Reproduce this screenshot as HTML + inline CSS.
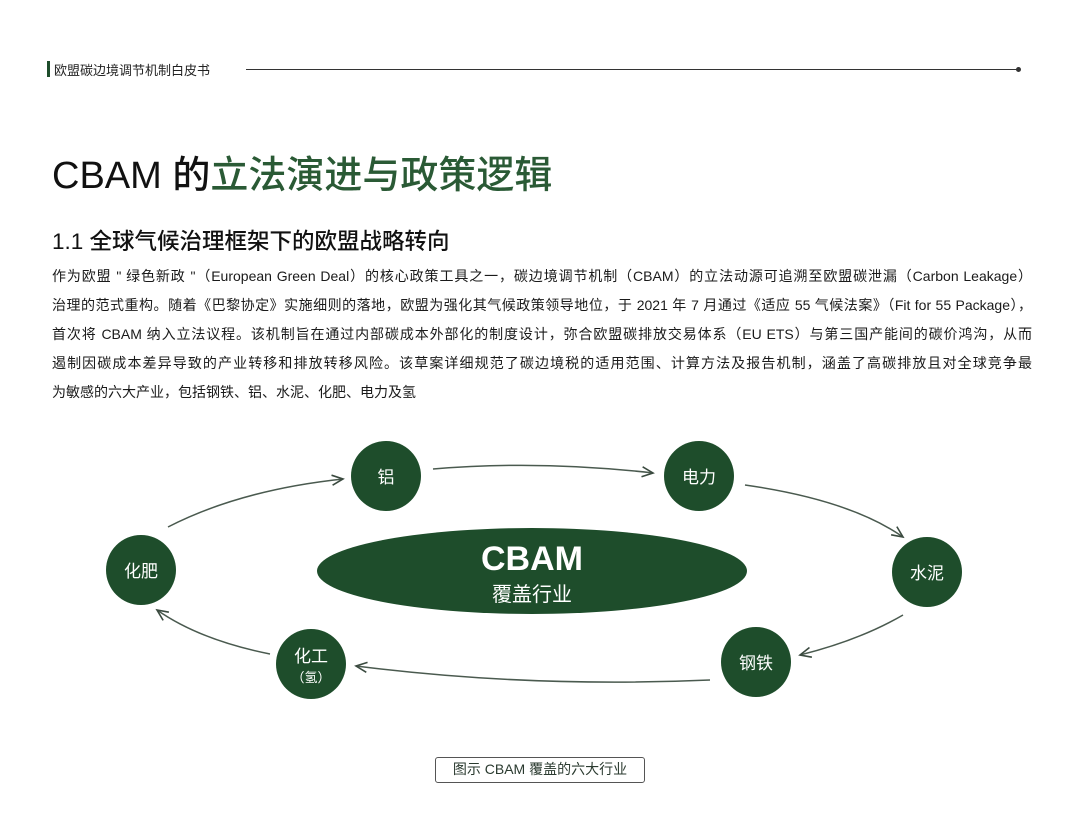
<!DOCTYPE html>
<html><head><meta charset="utf-8"><style>
*{margin:0;padding:0;box-sizing:border-box}
body{width:1080px;height:814px;background:#fff;position:relative;overflow:hidden;font-family:"Liberation Sans","Noto Sans CJK SC",sans-serif;color:#1a1a1a}
.a{position:absolute;white-space:nowrap}
.ln{position:absolute;left:52px;width:980px;font-size:14px;text-align:justify;text-align-last:justify;white-space:nowrap;line-height:18px}
</style></head><body>
<div class="a" style="left:47px;top:61px;width:3px;height:16px;background:#1e4d2b"></div>
<div class="a" style="left:54px;top:60px;font-size:13px;color:#222">欧盟碳边境调节机制白皮书</div>
<div class="a" style="left:246px;top:69px;width:772px;height:1px;background:#333"></div>
<div class="a" style="left:1016px;top:67px;width:5px;height:5px;border-radius:50%;background:#333"></div>
<div class="a" style="left:52px;top:144px;font-size:38px;font-weight:500;color:#111">CBAM 的<span style="color:#2a5a35">立法演进与政策逻辑</span></div>
<div class="a" style="left:52px;top:224px;font-size:22.5px;font-weight:500;color:#111">1.1 全球气候治理框架下的欧盟战略转向</div>
<div class="ln" style="top:267px">作为欧盟 " 绿色新政 "（European Green Deal）的核心政策工具之一，碳边境调节机制（CBAM）的立法动源可追溯至欧盟碳泄漏（Carbon Leakage）</div>
<div class="ln" style="top:296px">治理的范式重构。随着《巴黎协定》实施细则的落地，欧盟为强化其气候政策领导地位，于 2021 年 7 月通过《适应 55 气候法案》（Fit for 55 Package），</div>
<div class="ln" style="top:325px">首次将 CBAM 纳入立法议程。该机制旨在通过内部碳成本外部化的制度设计，弥合欧盟碳排放交易体系（EU ETS）与第三国产能间的碳价鸿沟，从而</div>
<div class="ln" style="top:354px">遏制因碳成本差异导致的产业转移和排放转移风险。该草案详细规范了碳边境税的适用范围、计算方法及报告机制，涵盖了高碳排放且对全球竞争最</div>
<div class="ln" style="top:383px;text-align-last:left">为敏感的六大产业，包括钢铁、铝、水泥、化肥、电力及氢</div>
<svg class="a" style="left:0;top:0" width="1080" height="814">
<defs><marker id="m" markerWidth="14" markerHeight="14" refX="12" refY="7" orient="auto" markerUnits="userSpaceOnUse"><path d="M1,2 L12,7 L1,12" fill="none" stroke="#3a4a3f" stroke-width="1.6"/></marker></defs>
<g fill="none" stroke="#4a5a4f" stroke-width="1.5">
<path d="M168,527 Q240,490 343,479" marker-end="url(#m)"/>
<path d="M433,469 Q540,460 653,473" marker-end="url(#m)"/>
<path d="M745,485 Q850,500 903,537" marker-end="url(#m)"/>
<path d="M903,615 Q860,640 800,655" marker-end="url(#m)"/>
<path d="M710,680 Q530,688 356,666" marker-end="url(#m)"/>
<path d="M270,654 Q200,640 157,610" marker-end="url(#m)"/>
</g>
<g fill="#1e4d2b">
<ellipse cx="532" cy="571" rx="215" ry="43"/>
<circle cx="386" cy="476" r="35"/><circle cx="699" cy="476" r="35"/>
<circle cx="927" cy="572" r="35"/><circle cx="756" cy="662" r="35"/>
<circle cx="311" cy="664" r="35"/><circle cx="141" cy="570" r="35"/>
</g>
<g fill="#fff" font-family="Liberation Sans,Noto Sans CJK SC,sans-serif" text-anchor="middle">
<text x="532" y="570" font-size="34" font-weight="bold">CBAM</text>
<text x="532" y="601" font-size="20">覆盖行业</text>
<text x="386" y="483" font-size="17">铝</text>
<text x="699" y="483" font-size="17">电力</text>
<text x="927" y="579" font-size="17">水泥</text>
<text x="756" y="669" font-size="17">钢铁</text>
<text x="141" y="577" font-size="17">化肥</text>
<text x="311" y="662" font-size="17">化工</text>
<text x="311" y="682" font-size="13">（氢）</text>
</g>
</svg>
<div class="a" style="left:435px;top:757px;width:210px;height:26px;border:1.5px solid #555;border-radius:3px;font-size:14px;text-align:center;line-height:23px;color:#2a3a2f">图示 CBAM 覆盖的六大行业</div>
</body></html>
